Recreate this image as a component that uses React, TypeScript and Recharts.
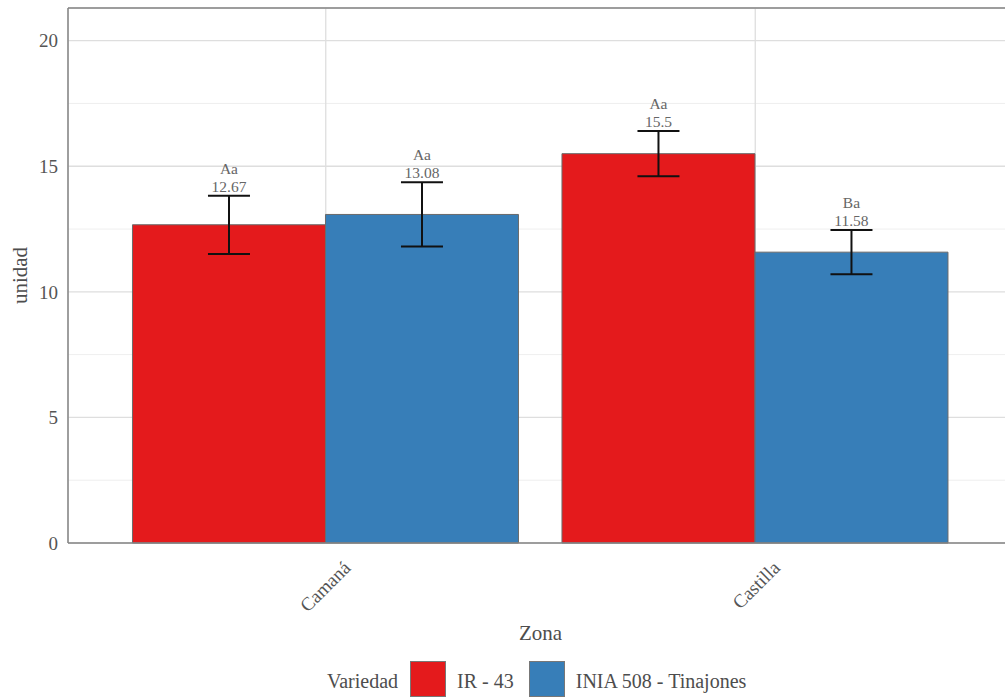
import React from 'react';
import {
  BarChart,
  Bar,
  XAxis,
  YAxis,
  CartesianGrid,
  ErrorBar,
  LabelList,
  Legend,
  ReferenceLine,
} from 'recharts';

const zonas = ['Camaná', 'Castilla'];
const seriesNames = ['IR - 43', 'INIA 508 - Tinajones'];
const seriesColors = ['#E41A1C', '#377EB8'];

const ir43 = [12.67, 15.5];
const inia508 = [13.08, 11.58];
// standard errors drawn as error bars
const ir43Se = [1.16, 0.9];
const inia508Se = [1.28, 0.88];
// letters from the mean comparison test
const ir43Letras = ['Aa', 'Aa'];
const inia508Letras = ['Aa', 'Ba'];

const yTicks = [0, 5, 10, 15, 20];
const yMinor = [2.5, 7.5, 12.5, 17.5];
const yMax = 21.3;

const data = zonas.map((zona, i) => ({
  zona,
  ir43: ir43[i],
  ir43Se: ir43Se[i],
  inia508: inia508[i],
  inia508Se: inia508Se[i],
}));

const serif = '"Times New Roman", Times, "Liberation Serif", Tinos, "DejaVu Serif", serif';
const axisGrey = '#858585';

// letters + mean, stacked just above the error bar cap
const BarTag = (props: any) => {
  const { x, y, width, height, value, index, se, letters } = props;
  const perUnit = height / value;
  const cx = x + width / 2;
  const capY = y - se[index] * perUnit;
  return (
    <g fill="#666" style={{ fontFamily: serif }} fontSize={15.5}>
      <text x={cx} y={capY - 22} textAnchor="middle">{letters[index]}</text>
      <text x={cx} y={capY - 4} textAnchor="middle">{String(value)}</text>
    </g>
  );
};

const ZonaTick = (props: any) => {
  const { x, y, payload } = props;
  const tx = x + 26;
  const ty = y + 18;
  return (
    <text
      x={tx}
      y={ty}
      transform={`rotate(-45, ${tx}, ${ty})`}
      textAnchor="end"
      fill="#555"
      style={{ fontFamily: serif }}
      fontSize={19}
    >
      {payload.value}
    </text>
  );
};

const YTitle = (props: any) => {
  const { viewBox } = props;
  const cx = viewBox.x + 12;
  const cy = viewBox.y + viewBox.height / 2;
  return (
    <text
      x={cx}
      y={cy}
      transform={`rotate(-90, ${cx}, ${cy})`}
      textAnchor="middle"
      dominantBaseline="central"
      fill="#4d4d4d"
      style={{ fontFamily: serif }}
      fontSize={21}
    >
      unidad
    </text>
  );
};

const XTitle = (props: any) => {
  const { viewBox } = props;
  return (
    <text
      x={viewBox.x + viewBox.width / 2}
      y={viewBox.y + 97}
      textAnchor="middle"
      fill="#4d4d4d"
      style={{ fontFamily: serif }}
      fontSize={21}
    >
      Zona
    </text>
  );
};

const LegendBox = () => (
  <div
    style={{
      height: 38,
      display: 'flex',
      alignItems: 'center',
      paddingLeft: 327,
      fontFamily: serif,
      fontSize: 20,
      lineHeight: '20px',
      color: '#4d4d4d',
    }}
  >
    <span style={{ paddingTop: 4, marginRight: 12 }}>Variedad</span>
    {seriesNames.map((name, i) => (
      <React.Fragment key={name}>
        <span
          style={{
            width: 34,
            height: 34,
            background: seriesColors[i],
            border: '1px solid #777',
            marginRight: 11,
          }}
        />
        <span style={{ paddingTop: 4, marginRight: 15 }}>{name}</span>
      </React.Fragment>
    ))}
  </div>
);

export default function App() {
  return (
    <div
      style={{
        position: 'fixed',
        left: 0,
        top: 0,
        width: 1005,
        height: 698,
        overflow: 'hidden',
        background: '#fff',
      }}
    >
      <BarChart
        width={1020}
        height={698}
        data={data}
        margin={{ top: 8, right: 7, bottom: 0, left: 8 }}
        barCategoryGap="5%"
        barGap={0}
        style={{ fontFamily: serif }}
      >
        <CartesianGrid horizontalValues={yMinor} vertical={false} stroke="#efefef" strokeWidth={1} />
        <CartesianGrid stroke="#dedede" strokeWidth={1.3} />
        <XAxis
          dataKey="zona"
          padding={{ left: 43, right: 43 }}
          height={117}
          tickLine={false}
          axisLine={{ stroke: axisGrey, strokeWidth: 1.5 }}
          tick={<ZonaTick />}
          interval={0}
          label={<XTitle />}
        />
        <YAxis
          type="number"
          domain={[0, yMax]}
          ticks={yTicks}
          width={60}
          tickLine={false}
          tickMargin={4}
          axisLine={{ stroke: axisGrey, strokeWidth: 1.5 }}
          tick={{ fill: '#555', fontSize: 19, style: { fontFamily: serif } }}
          label={<YTitle />}
        />
        <ReferenceLine y={yMax} stroke={axisGrey} strokeWidth={1.5} />
        <Legend
          verticalAlign="bottom"
          content={<LegendBox />}
          wrapperStyle={{ left: 0, top: 660, width: 1005, height: 38 }}
        />
        <Bar dataKey="ir43" name={seriesNames[0]} fill={seriesColors[0]} stroke="#6a6a6a" strokeWidth={1} isAnimationActive={false}>
          <ErrorBar dataKey="ir43Se" direction="y" width={21} stroke="#111" strokeWidth={2} />
          <LabelList
            dataKey="ir43"
            content={(p: any) => <BarTag {...p} se={ir43Se} letters={ir43Letras} />}
          />
        </Bar>
        <Bar dataKey="inia508" name={seriesNames[1]} fill={seriesColors[1]} stroke="#6a6a6a" strokeWidth={1} isAnimationActive={false}>
          <ErrorBar dataKey="inia508Se" direction="y" width={21} stroke="#111" strokeWidth={2} />
          <LabelList
            dataKey="inia508"
            content={(p: any) => <BarTag {...p} se={inia508Se} letters={inia508Letras} />}
          />
        </Bar>
      </BarChart>
    </div>
  );
}
